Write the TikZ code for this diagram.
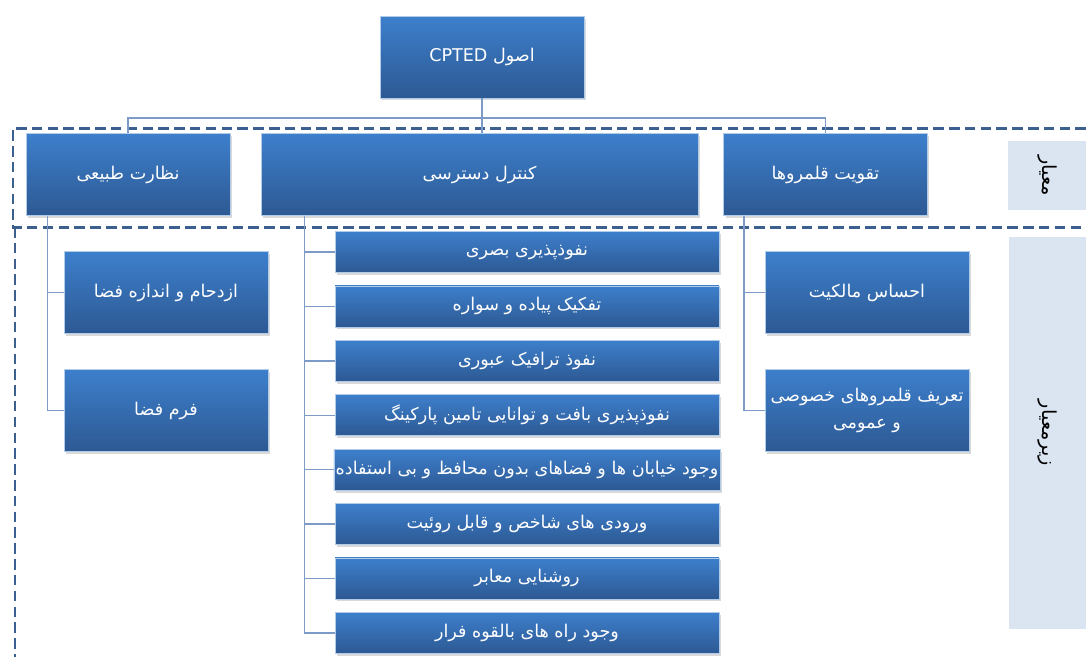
\documentclass[tikz,border=0pt]{standalone}
\usepackage{fontspec}
\newfontfamily\arabicfont[Script=Arabic]{DejaVu Sans}
\TeXXeTstate=1
\usetikzlibrary{shadows}
\definecolor{btop}{HTML}{3D7FCC}
\definecolor{bbot}{HTML}{2D5993}
\definecolor{lnk}{HTML}{7E9BC8}
\definecolor{dsh}{HTML}{3B5F8E}
\definecolor{tagfill}{HTML}{DBE4F1}
\newcommand{\fa}[1]{{\arabicfont\beginR #1\endR}}
\tikzstyle{box}=[rectangle, draw=btop!40!white, line width=0.4pt, top color=btop, bottom color=bbot, text=white, minimum width=4.08cm, minimum height=1.64cm, inner sep=1pt, align=center, font=\fontsize{10}{15}\selectfont, drop shadow={opacity=0.3, shadow xshift=0.04cm, shadow yshift=-0.05cm}]
\tikzstyle{item}=[box, minimum width=7.68cm, minimum height=0.82cm]
\tikzstyle{tag}=[rectangle, fill=tagfill, minimum width=1.56cm, inner sep=0pt, font=\fontsize{11}{13}\selectfont]
\tikzstyle{l1}=[line width=0.8pt, color=lnk]
\tikzstyle{frame}=[line width=1.7pt, color=dsh, dash pattern=on 6pt off 3pt]

\begin{document}
\begin{tikzpicture}[x=0.02cm, y=-0.02cm]
    \useasboundingbox (0,0) rectangle (1086,657);
    \draw[frame] (1086,128) -- (13,128) -- (13,227) -- (1086,227);
    \draw[frame] (15,227) -- (15,657);

    \node (root) [box] at (482,57) {\fa{اصول \beginL CPTED\endL}};
    \node (nat) [box] at (128,174.5) {\fa{نظارت طبیعی}};
    \node (acc) [box, minimum width=8.74cm] at (479.5,174.5) {\fa{کنترل دسترسی}};
    \node (ter) [box] at (825.5,174.5) {\fa{تقویت قلمروها}};
    \coordinate (bar) at (482,118);
    \draw[l1] (root.south) -- (root.south |- acc.north);
    \draw[l1] (nat.north) |- (bar) -| (ter.north);

    \node (n1) [box] at (166,292.5) {\fa{ازدحام و اندازه فضا}};
    \node (n2) [box] at (166,410.5) {\fa{فرم فضا}};
    \draw[l1] ([xshift=0.44cm]nat.south west) |- (n1.west);
    \draw[l1] ([xshift=0.44cm]nat.south west) |- (n2.west);

    \node (t1) [box] at (867,292.5) {\fa{احساس مالکیت}};
    \node (t2) [box] at (867,410.5) {\fa{تعریف قلمروهای خصوصی}\\\fa{و عمومی}};
    \draw[l1] ([xshift=0.42cm]ter.south west) |- (t1.west);
    \draw[l1] ([xshift=0.42cm]ter.south west) |- (t2.west);

    \foreach \i/\txt in {1/نفوذپذیری بصری, 2/تفکیک پیاده و سواره, 3/نفوذ ترافیک عبوری, 4/نفوذپذیری بافت و توانایی تامین پارکینگ, 5/وجود خیابان ها و فضاهای بدون محافظ و بی استفاده, 6/ورودی های شاخص و قابل روئیت, 7/روشنایی معابر, 8/وجود راه های بالقوه فرار}
    {
      \node (c\i) [item] at (527,{252+54.4*(\i-1)}) {\fa{\txt}};
      \draw[l1] ([xshift=0.88cm]acc.south west) |- (c\i.west);
    }

    \node (k1) [tag, minimum height=1.38cm] at (1047,175.5) {\rotatebox{-90}{\fa{معیار}}};
    \node (k2) [tag, minimum height=7.84cm] at (1047.5,433) {\rotatebox{-90}{\fa{زیرمعیار}}};
\end{tikzpicture}
\end{document}
